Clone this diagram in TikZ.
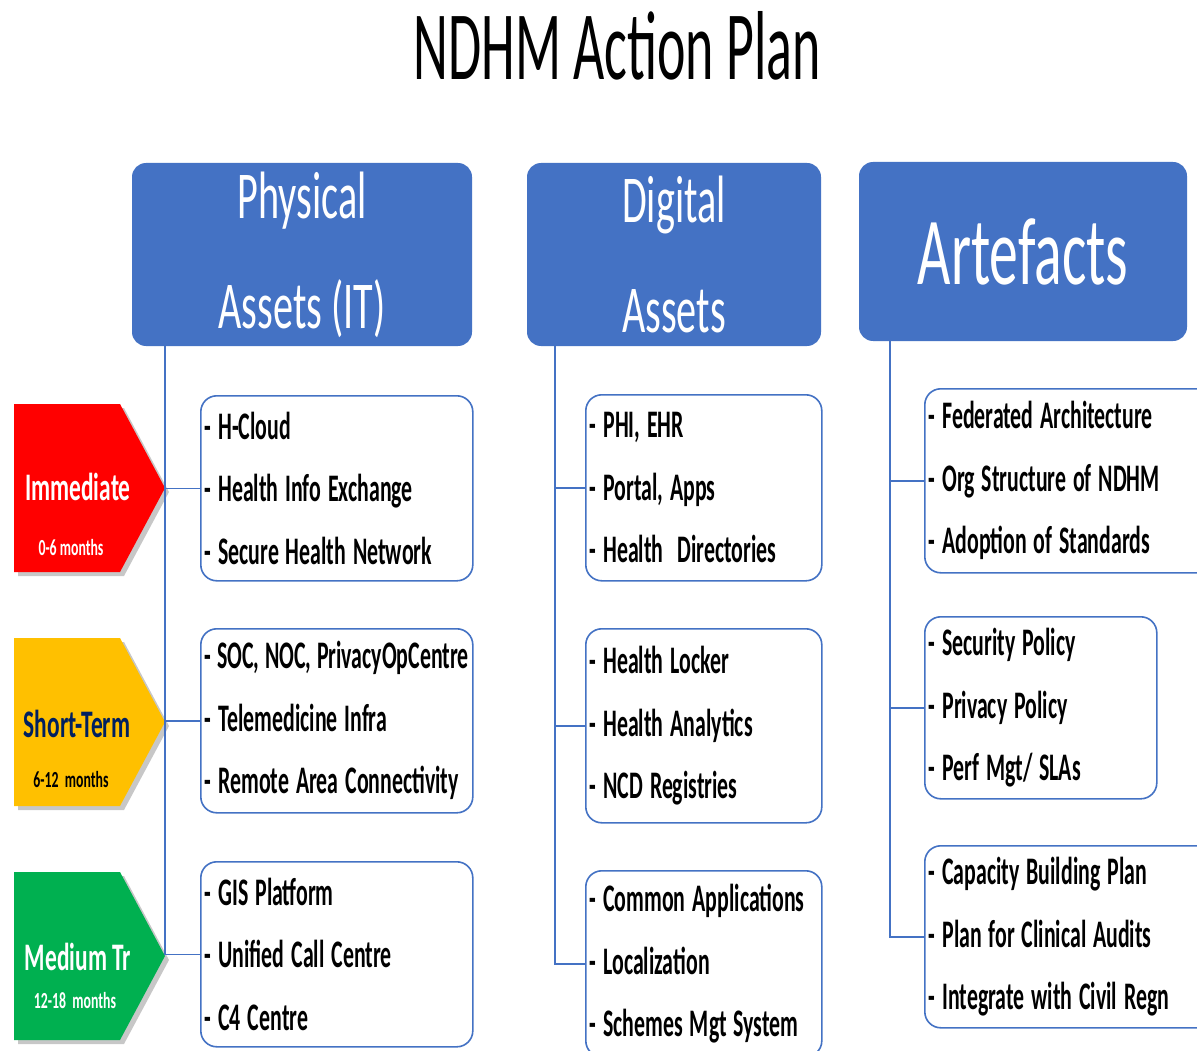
\documentclass[tikz,border=0pt]{standalone}
\usepackage{fontspec}
\setmainfont{Carlito}[FakeStretch=0.6]
\newfontfamily\titlefont{Carlito}[FakeStretch=0.55]
\newfontfamily\itemfont{Carlito}[FakeStretch=0.56, WordSpace=1.4]
\usepackage{tikz}
\usetikzlibrary{positioning}
\hyphenpenalty=10000
\exhyphenpenalty=10000
\hfuzz=20pt
\definecolor{hdr}{HTML}{4472C4}
\definecolor{edge}{HTML}{4472C4}
\definecolor{imm}{HTML}{FF0000}
\definecolor{short}{HTML}{FFC000}
\definecolor{med}{HTML}{00B050}
\definecolor{navy}{HTML}{002060}
\tikzset{
  head/.style={fill=hdr, rounded corners=14pt, text=white, align=center, inner sep=0pt},
  item/.style 2 args={draw=edge, line width=1.6pt, rounded corners=16pt, fill=white,
    align=flush left, anchor=north west, inner xsep=4pt, inner ysep=0pt,
    text width=#1, minimum height=#2, font=\itemfont\fontsize{39}{62.5}\selectfont\bfseries},
  conn/.style={draw=edge, line width=1.5pt},
  tag/.style={font=\fontsize{39}{40}\selectfont\bfseries, anchor=base},
  span/.style={font=\fontsize{23}{24}\selectfont\bfseries, anchor=base},
  shade/.style={fill=black, opacity=0.22}
}

\begin{document}
\begin{tikzpicture}[x=1pt,y=-1pt]
  \useasboundingbox[fill=white] (0,0) rectangle (1197,1051);

  \node[font=\titlefont\fontsize{98}{98}\selectfont, anchor=base] (title) at (617,80) {NDHM Action Plan};

  \node[head, minimum width=340, minimum height=183, font=\fontsize{67}{110}\selectfont] (phys) at (302,254.5) {Physical\\Assets (IT)};
  \node[head, minimum width=294, minimum height=183, font=\fontsize{67}{110}\selectfont] (digi) at (674,254.5) {Digital\\Assets};
  \node[head, minimum width=328, minimum height=179, font=\fontsize{96}{96}\selectfont] (arte) at (1023,251.5) {Artefacts};

  \foreach \t/\c in {404/imm, 638/short, 872/med} {
    \fill[shade] (18,\t+4) -- (124,\t+4) -- (169,\t+88) -- (124,\t+172) -- (18,\t+172) -- cycle;
    \fill[\c] (14,\t) -- (120,\t) -- (165,\t+84) -- (120,\t+168) -- (14,\t+168) -- cycle;
  }
  \node[tag, text=white] (immT) at (78,500) {Immediate};
  \node[span, text=white] (immS) at (71,555) {0-6 months};
  \node[tag, text=navy] (shoT) at (77,737) {Short-Term};
  \node[span, text=black] (shoS) at (71,787) {6-12\ \ months};
  \node[tag, text=white] (medT) at (78,970) {Medium Tr};
  \node[span, text=white] (medS) at (75,1008) {12-18\ \ months};

  \coordinate (pt) at (165,346);
  \coordinate (dt) at (555,346);
  \coordinate (at) at (890,341);

  \node[item={264pt}{185pt}] (p1) at (200,395) {- H-Cloud\\- Health Info Exchange\\- Secure Health Network};
  \node[item={264pt}{184pt}] (p2) at (200,628) {-~SOC,~NOC,~PrivacyOpCentre\\- Telemedicine Infra\\- Remote Area Connectivity};
  \node[item={264pt}{185pt}] (p3) at (200,861) {- GIS Platform\\- Unified Call Centre\\- C4 Centre};

  \node[item={228pt}{186pt}] (d1) at (585,394) {- PHI, EHR\\- Portal, Apps\\- Health\ \ Directories};
  \node[item={228pt}{194pt}] (d2) at (585,628) {- Health Locker\\- Health Analytics\\- NCD Registries};
  \node[item={228pt}{186pt}] (d3) at (585,870) {-~Common~Applications\\- Localization\\- Schemes Mgt System};

  \node[item={282pt}{184pt}] (a1) at (924,388) {- Federated Architecture\\- Org Structure of NDHM\\- Adoption of Standards};
  \node[item={224pt}{182pt}] (a2) at (924,616) {- Security Policy\\- Privacy Policy\\- Perf Mgt/ SLAs};
  \node[item={282pt}{182pt}] (a3) at (924,845) {- Capacity Building Plan\\- Plan for Clinical Audits\\- Integrate with Civil Regn};

  \draw[conn] (pt) |- (p3.west);
  \draw[conn] (pt |- p1.west) -- (p1.west);
  \draw[conn] (pt |- p2.west) -- (p2.west);
  \draw[conn] (dt) |- (d3.west);
  \draw[conn] (dt |- d1.west) -- (d1.west);
  \draw[conn] (dt |- d2.west) -- (d2.west);
  \draw[conn] (at) |- (a3.west);
  \draw[conn] (at |- a1.west) -- (a1.west);
  \draw[conn] (at |- a2.west) -- (a2.west);
\end{tikzpicture}
\end{document}
